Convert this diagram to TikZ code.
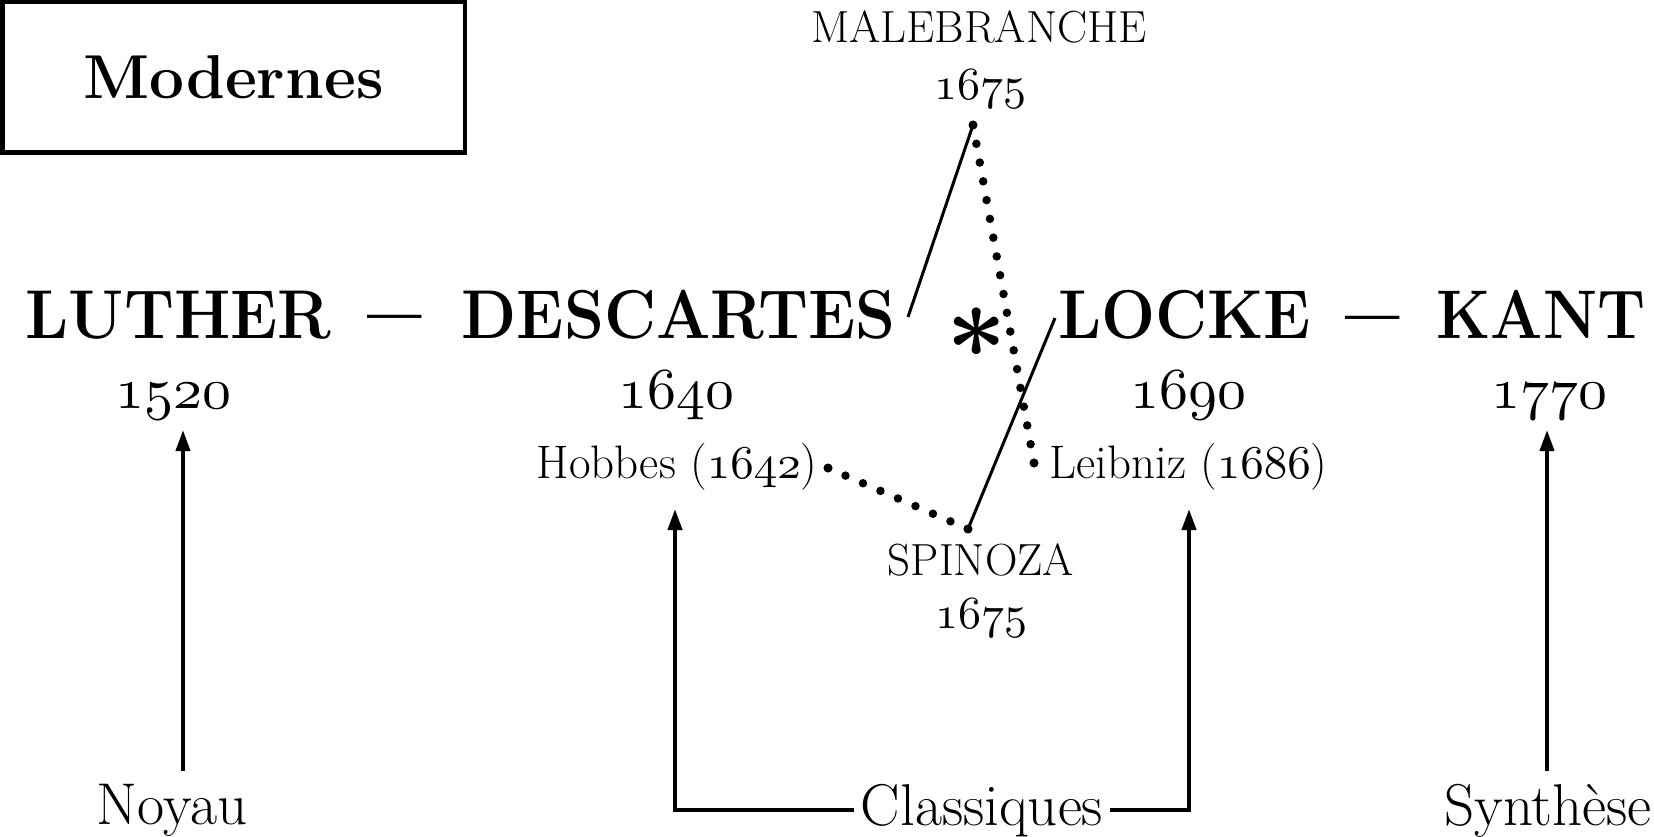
\documentclass[tikz,border=0pt]{standalone}
\usepackage{graphicx}
\usetikzlibrary{arrows.meta}
% old-style figures: math italic digits at 10pt, scaled to the wanted size
\newcommand{\osn}[2]{\scalebox{#1}{\fontsize{10}{12}\selectfont$\mathnormal{#2}$}}
\begin{document}
\begin{tikzpicture}[x=1pt,y=-1pt,
  bigname/.style={inner sep=0pt, anchor=base, font=\fontsize{64}{64}\selectfont\bfseries},
  yearlbl/.style={inner sep=0pt, anchor=base},
  capslbl/.style={inner sep=0pt, anchor=base, font=\fontsize{45}{45}\selectfont},
  minorlbl/.style={inner sep=0pt, anchor=base, font=\fontsize{47}{47}\selectfont},
  bottomlbl/.style={inner sep=0pt, anchor=base, font=\fontsize{59}{59}\selectfont},
  dashmark/.style={inner sep=0pt, anchor=base, font=\fontsize{97}{97}\selectfont\bfseries},
  dotmark/.style={circle, fill=black, inner sep=0pt, minimum size=9pt},
  dotline/.style={line width=8.5pt, line cap=round, dash pattern=on 0pt off 19.08pt},
  link/.style={line width=3pt},
  arr/.style={line width=4pt, -{Triangle[length=21pt,width=14pt]}},
]
\useasboundingbox (0,0) rectangle (1654,837);

% title box
\node[draw, line width=4.5pt, minimum width=462.5pt, minimum height=150.5pt, inner sep=0pt,
      font=\fontsize{62}{62}\selectfont\bfseries] (mod) at (233.5,77.5) {Modernes};

% main line
\node[bigname] (luther) at (178.5,338) {\scalebox{1}[1.08]{LUTHER}};
\node[dashmark] (dash1) at (395,343.5) {–};
\node[bigname] (desc) at (678.5,338) {\scalebox{1}[1.08]{DESCARTES}};
\node[inner sep=0pt, anchor=base] (ast) at (977,357) {\scalebox{10.5}{\fontsize{10}{12}\selectfont\boldmath$\ast$}};
\node[bigname] (locke) at (1184.5,338) {\scalebox{1}[1.08]{LOCKE}};
\node[dashmark] (dash2) at (1373,344.5) {–};
\node[bigname, font=\fontsize{61.5}{61.5}\selectfont\bfseries] (kant) at (1541,338) {\scalebox{1}[1.12]{KANT}};

% years
\node[yearlbl] (y1520) at (173,408) {\osn{5.8}{1520}};
\node[yearlbl] (y1640) at (676,408) {\osn{5.8}{1640}};
\node[yearlbl] (y1690) at (1188,408) {\osn{5.8}{1690}};
\node[yearlbl] (y1770) at (1549,408) {\osn{5.8}{1770}};

% secondary figures
\node[capslbl] (mal) at (979,43) {MALEBRANCHE};
\node[yearlbl] (maly) at (980,100) {\osn{4.6}{1675}};
\node[minorlbl] (hob) at (677,478) {Hobbes (\osn{4.7}{1642})};
\node[minorlbl] (leib) at (1188.5,478) {Leibniz (\osn{4.7}{1686})};
\node[capslbl] (spi) at (981,575) {SPINOZA};
\node[yearlbl] (spiy) at (981,628) {\osn{4.6}{1675}};

% bottom labels
\node[bottomlbl] (noyau) at (172,824) {Noyau};
\node[bottomlbl, inner xsep=7pt] (cl) at (982,825) {Classiques};
\node[bottomlbl] (synth) at (1548,825) {Synthèse};

% dots and links
\node[dotmark] (mdot) at (973,125) {};
\node[dotmark] (ldot) at (1034,463) {};
\node[dotmark] (hdot) at (828,468) {};
\node[dotmark] (sdot) at (968,529) {};
\coordinate (dend) at (908,317);
\coordinate (lend) at (1055,318);
\draw[link] (mdot.center) -- (dend);
\draw[link] (sdot.center) -- (lend);
\draw[dotline] (mdot.center) -- (ldot.center);
\draw[dotline] (hdot.center) -- (sdot.center);

% arrows
\coordinate (nybase) at (183,771);
\coordinate (nytip) at (183,430);
\coordinate (hobtip) at (675,509);
\coordinate (leibtip) at (1189,509);
\coordinate (kbase) at (1547,771);
\coordinate (ktip) at (1547,430);
\draw[arr] (nybase) -- (nytip);
\draw[arr] (cl.west) -| (hobtip);
\draw[arr] (cl.east) -| (leibtip);
\draw[arr] (kbase) -- (ktip);
\end{tikzpicture}
\end{document}
